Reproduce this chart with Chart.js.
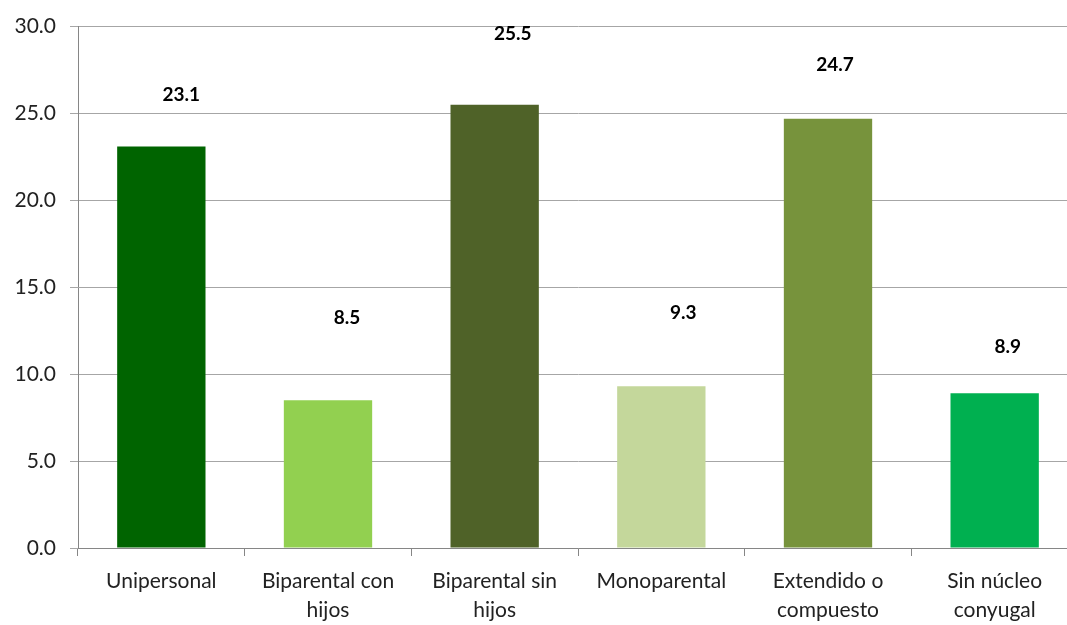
<!DOCTYPE html>
<html>
<head>
<meta charset="utf-8">
<script src="https://cdn.jsdelivr.net/npm/chart.js@4"></script>
<style>
	html, body { margin: 0; padding: 0; background: #fff; overflow: hidden; }
	#wrap { width: 1080px; height: 625px; }
</style>
</head>
<body>
<div id="wrap"><canvas id="hogares"></canvas></div>
<script>
// Data
const categories = [
	["Unipersonal"],
	["Biparental con", "hijos"],
	["Biparental sin", "hijos"],
	["Monoparental"],
	["Extendido o", "compuesto"],
	["Sin núcleo", "conyugal"],
];
const values = [23.1, 8.5, 25.5, 9.3, 24.7, 8.9];
const yTicks = [0, 5, 10, 15, 20, 25, 30];

const barColors = ["#006400", "#92D050", "#4F6228", "#C4D79B", "#77933C", "#00B050"];
// value labels were nudged by hand in the original: lift in axis units, shift in px
const labelLift = [3.0, 4.75, 4.1, 4.2, 3.1, 2.7];
const labelShift = [20, 19, 18, 22, 7, 13];

const valueLabels = {
	id: "valueLabels",
	afterDatasetsDraw(chart) {
		const ctx = chart.ctx;
		const meta = chart.getDatasetMeta(0);
		const y = chart.scales.y;
		ctx.save();
		ctx.font = "bold 19px Lato";
		ctx.fillStyle = "#000";
		ctx.textAlign = "center";
		ctx.textBaseline = "middle";
		meta.data.forEach((bar, i) => {
			const v = values[i];
			ctx.fillText(v.toFixed(1), bar.x + labelShift[i], y.getPixelForValue(v + labelLift[i]));
		});
		ctx.restore();
	},
};

new Chart(document.getElementById("hogares"), {
	type: "bar",
	data: {
		labels: categories,
		datasets: [
			{
				data: values,
				backgroundColor: barColors,
				borderWidth: 0,
				barPercentage: 0.53,
				categoryPercentage: 1,
			},
		],
	},
	options: {
		responsive: true,
		maintainAspectRatio: false,
		animation: false,
		layout: { padding: { top: 25, right: 2, left: 0, bottom: 0 } },
		plugins: { legend: { display: false }, tooltip: { enabled: false } },
		scales: {
			x: {
				grid: {
					offset: true,
					drawOnChartArea: false,
					color: "#868686",
					tickLength: 8,
				},
				border: { color: "#868686" },
				ticks: {
					color: "#222",
					font: { family: "Lato", size: 21, lineHeight: 1.42 },
					padding: 10,
					maxRotation: 0,
				},
				afterFit(scale) { scale.height = 77; },
			},
			y: {
				min: 0,
				max: 30,
				afterBuildTicks(scale) {
					scale.ticks = yTicks.map((v) => ({ value: v }));
				},
				grid: { color: "#a6a6a6", tickLength: 8 },
				border: { color: "#868686" },
				ticks: {
					color: "#222",
					font: { family: "Lato", size: 21 },
					padding: 14,
					callback: (v) => Number(v).toFixed(1),
				},
				afterFit(scale) { scale.width = 78; },
			},
		},
	},
	plugins: [valueLabels],
});
</script>
</body>
</html>
